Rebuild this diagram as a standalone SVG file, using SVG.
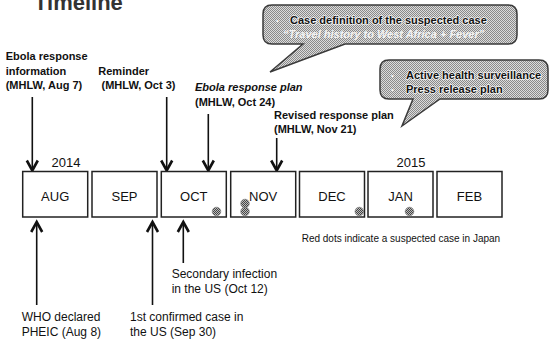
<svg xmlns="http://www.w3.org/2000/svg" width="551" height="340" viewBox="0 0 551 340">
<defs>
<pattern id="dots" width="2" height="2" patternUnits="userSpaceOnUse">
<rect width="2" height="2" fill="#dcdcdc"/>
<rect width="1" height="1" fill="#8a8a8a"/>
<rect x="1" y="1" width="1" height="1" fill="#8a8a8a"/>
</pattern>
<pattern id="dots2" width="2" height="2" patternUnits="userSpaceOnUse">
<rect width="2" height="2" fill="#bbbbbb"/>
<rect width="1" height="1" fill="#444"/>
<rect x="1" y="1" width="1" height="1" fill="#444"/>
</pattern>
<marker id="ah" markerUnits="userSpaceOnUse" markerWidth="16" markerHeight="16" viewBox="-12 -8 14 16" refX="0" refY="0" orient="auto">
<path d="M-10,-5.5 L0,0 L-10,5.5" fill="none" stroke="#111" stroke-width="2.6" stroke-linejoin="miter"/>
</marker>
</defs>
<style>
text{font-family:"Liberation Sans",Arial,sans-serif;fill:#111}
.b{font-weight:bold;font-size:11px}
.r{font-size:12px}
.m{font-size:13px;text-anchor:middle}
.box{fill:#fff;stroke:#222;stroke-width:1.5}
.ln{stroke:#111;stroke-width:1.6;fill:none;marker-end:url(#ah)}
.call{fill:url(#dots);stroke:#3a3a3a;stroke-width:1.5}
.halo{stroke:#f4f4f4;stroke-width:1.6;paint-order:stroke;stroke-linejoin:round}
.dot{fill:url(#dots2);stroke:#777;stroke-width:0.6}
.bul{font-size:8px;fill:#f4f4f4}
</style>
<rect width="551" height="340" fill="#fff"/>
<text x="34" y="10" style="font-size:22px;font-weight:bold;fill:#333">Timeline</text>

<g id="connectors">
<line class="ln" x1="32.3" y1="97" x2="32.3" y2="170.5"/>
<line class="ln" x1="166.7" y1="97" x2="166.7" y2="170.5"/>
<line class="ln" x1="208.3" y1="114" x2="208.3" y2="170.5"/>
<line class="ln" x1="276.7" y1="138" x2="276.7" y2="170.5"/>
<line class="ln" x1="36.7" y1="305" x2="36.7" y2="222"/>
<line class="ln" x1="152.5" y1="305" x2="152.5" y2="222"/>
<line class="ln" x1="183.3" y1="263" x2="183.3" y2="222"/>
</g>

<g id="months">
<g id="aug"><rect class="box" x="22.7" y="171.5" width="65" height="45.5"/><text class="m" x="55.2" y="200.5">AUG</text></g>
<g id="sep"><rect class="box" x="92" y="171.5" width="65" height="45.5"/><text class="m" x="124.5" y="200.5">SEP</text></g>
<g id="oct"><rect class="box" x="161.3" y="171.5" width="65" height="45.5"/><text class="m" x="193.8" y="200.5">OCT</text></g>
<g id="nov"><rect class="box" x="230.7" y="171.5" width="65" height="45.5"/><text class="m" x="263.2" y="200.5">NOV</text></g>
<g id="dec"><rect class="box" x="299.5" y="171.5" width="65" height="45.5"/><text class="m" x="332" y="200.5">DEC</text></g>
<g id="jan"><rect class="box" x="368" y="171.5" width="65" height="45.5"/><text class="m" x="400.5" y="200.5">JAN</text></g>
<g id="feb"><rect class="box" x="437" y="171.5" width="65" height="45.5"/><text class="m" x="469.5" y="200.5">FEB</text></g>
</g>

<g id="years">
<text x="51.5" y="166.5" style="font-size:13px">2014</text>
<text x="396.5" y="166.5" style="font-size:13px">2015</text>
</g>

<g id="red-dots">
<circle class="dot" cx="216.5" cy="211.5" r="4.3"/>
<circle class="dot" cx="245" cy="203.5" r="4.3"/>
<circle class="dot" cx="245" cy="211.5" r="4.3"/>
<circle class="dot" cx="359.3" cy="211.5" r="4.3"/>
<circle class="dot" cx="409.5" cy="211.5" r="4.3"/>
</g>

<g id="ev-info">
<text class="b" x="5.7" y="60">Ebola response</text>
<text class="b" x="5.7" y="74.5">information</text>
<text class="b" x="5.7" y="89">(MHLW, Aug 7)</text>
</g>
<g id="ev-reminder">
<text class="b" x="98.3" y="74.5">Reminder</text>
<text class="b" x="101.5" y="89">(MHLW, Oct 3)</text>
</g>
<g id="ev-plan">
<text class="b" x="195" y="91" style="font-style:italic">Ebola response plan</text>
<text class="b" x="195" y="105.5">(MHLW, Oct 24)</text>
</g>
<g id="ev-revised">
<text class="b" x="274" y="118.5">Revised response plan</text>
<text class="b" x="274" y="133">(MHLW, Nov 21)</text>
</g>

<g id="callout-case">
<path class="call" d="M272,5 H508 Q517,5 517,14 V35 Q517,44 508,44 H345 L270,72 L303,44 H272 Q263,44 263,35 V14 Q263,5 272,5 Z"/>
<text class="bul" x="276" y="23">•</text>
<text class="b halo" x="290" y="24">Case definition of the suspected case</text>
<text class="b" x="283" y="37.5" style="font-style:italic;fill:#f2f2f2">“Travel history to West Africa + Fever”</text>
</g>
<g id="callout-surv">
<path class="call" d="M389,60 H539 Q548,60 548,69 V90 Q548,99 539,99 H440 L402,126 L413,99 H389 Q380,99 380,90 V69 Q380,60 389,60 Z"/>
<text class="bul" x="391" y="78">•</text>
<text class="bul" x="391" y="92">•</text>
<text class="b halo" x="406" y="79">Active health surveillance</text>
<text class="b halo" x="406" y="93">Press release plan</text>
</g>

<g id="legend"><text x="301.7" y="241.7" style="font-size:10px">Red dots indicate a suspected case in Japan</text></g>

<g id="ev-secondary">
<text class="r" x="171.7" y="278.3">Secondary infection</text>
<text class="r" x="171.7" y="293.3">in the US (Oct 12)</text>
</g>
<g id="ev-who">
<text class="r" x="21.7" y="321">WHO declared</text>
<text class="r" x="21.7" y="336">PHEIC (Aug 8)</text>
</g>
<g id="ev-first">
<text class="r" x="130" y="321">1st confirmed case in</text>
<text class="r" x="130" y="336">the US (Sep 30)</text>
</g>
</svg>
